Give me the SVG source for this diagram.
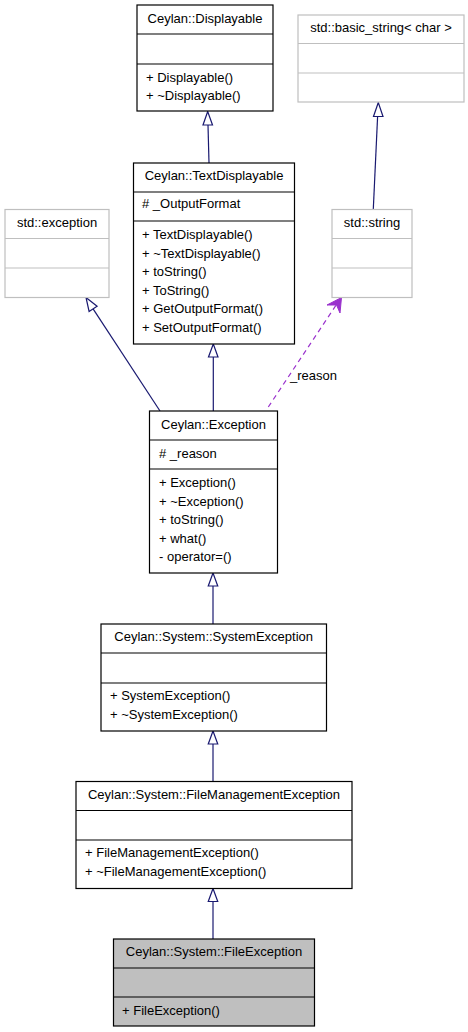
<svg xmlns="http://www.w3.org/2000/svg" width="468" height="1032" viewBox="0 0 468 1032">
<style>
text{font-family:"Liberation Sans",Arial,sans-serif;font-size:13px;fill:#000}
.t{text-anchor:middle}
.b{fill:#fff;stroke:#000;stroke-width:1.2}
.g{fill:#fff;stroke:#bfbfbf;stroke-width:1.2}
.f{fill:#bfbfbf;stroke:#000;stroke-width:1.2}
.dk{stroke:#000;stroke-width:1.2}
.lg{stroke:#bfbfbf;stroke-width:1.2}
.e{fill:none;stroke:#191970;stroke-width:1.2}
.ah{fill:#fff;stroke:#191970;stroke-width:1.2}
.u{fill:none;stroke:#9a32cd;stroke-width:1.2;stroke-dasharray:5,4}
.uh{fill:#9a32cd;stroke:#9a32cd;stroke-width:1}
</style>
<rect width="468" height="1032" fill="#fff"/>
<g id="edges">
<path class="e" d="M209,163 L208,125"/>
<polygon class="ah" points="207.7,111.5 203,125 212.5,125"/>
<path class="e" d="M373.3,209.3 C375,170 376.5,140 377.6,116.5"/>
<polygon class="ah" points="378.3,102.5 373.5,116.5 383,116.5"/>
<path class="e" d="M213.3,411 L213.3,357"/>
<polygon class="ah" points="213.3,344 208.5,357 218,357"/>
<path class="e" d="M160,411 L93.1,308.9"/>
<polygon class="ah" points="86,297.5 97.1,306.3 89.1,311.5"/>
<path class="u" d="M268.3,407 L336.5,304.5"/>
<polygon class="uh" points="341.5,297.5 340,313 336.5,305 327,305"/>
<text x="290" y="380">_reason</text>
<path class="e" d="M213,624 L213,586"/>
<polygon class="ah" points="213,573 208.25,586 217.75,586"/>
<path class="e" d="M213,781.5 L213,744"/>
<polygon class="ah" points="213,731 208.25,744 217.75,744"/>
<path class="e" d="M213,939 L213,901.5"/>
<polygon class="ah" points="213,888.5 208.25,901.5 217.75,901.5"/>
</g>
<g id="Displayable">
<rect class="b" x="137" y="5" width="136" height="106"/>
<line class="dk" x1="137" y1="34" x2="273" y2="34"/>
<line class="dk" x1="137" y1="64" x2="273" y2="64"/>
<text class="t" x="205" y="23.3">Ceylan::Displayable</text>
<text x="146" y="81.7">+ Displayable()</text>
<text x="146" y="100">+ ~Displayable()</text>
</g>
<g id="basic_string">
<rect class="g" x="298" y="15" width="166" height="87"/>
<line class="lg" x1="298" y1="43.5" x2="464" y2="43.5"/>
<line class="lg" x1="298" y1="73" x2="464" y2="73"/>
<text class="t" x="381" y="31.7">std::basic_string&lt; char &gt;</text>
</g>
<g id="TextDisplayable">
<rect class="b" x="133.5" y="163" width="161" height="181"/>
<line class="dk" x1="133.5" y1="192" x2="294.5" y2="192"/>
<line class="dk" x1="133.5" y1="221" x2="294.5" y2="221"/>
<text class="t" x="214" y="180">Ceylan::TextDisplayable</text>
<text x="142" y="208.3"># _OutputFormat</text>
<text x="142" y="239">+ TextDisplayable()</text>
<text x="142" y="257.5">+ ~TextDisplayable()</text>
<text x="142" y="276">+ toString()</text>
<text x="142" y="294.5">+ ToString()</text>
<text x="142" y="313">+ GetOutputFormat()</text>
<text x="142" y="331.5">+ SetOutputFormat()</text>
</g>
<g id="std_exception">
<rect class="g" x="5" y="209.5" width="104" height="88"/>
<line class="lg" x1="5" y1="238.5" x2="109" y2="238.5"/>
<line class="lg" x1="5" y1="268" x2="109" y2="268"/>
<text class="t" x="57" y="227">std::exception</text>
</g>
<g id="std_string">
<rect class="g" x="332" y="209.5" width="80" height="88"/>
<line class="lg" x1="332" y1="238.5" x2="412" y2="238.5"/>
<line class="lg" x1="332" y1="268" x2="412" y2="268"/>
<text class="t" x="372" y="226.7">std::string</text>
</g>
<g id="Exception">
<rect class="b" x="149.5" y="411" width="128" height="162"/>
<line class="dk" x1="149.5" y1="440" x2="277.5" y2="440"/>
<line class="dk" x1="149.5" y1="469" x2="277.5" y2="469"/>
<text class="t" x="213.5" y="428.5">Ceylan::Exception</text>
<text x="159" y="457.5"># _reason</text>
<text x="159" y="487">+ Exception()</text>
<text x="159" y="505.5">+ ~Exception()</text>
<text x="159" y="524">+ toString()</text>
<text x="159" y="542.5">+ what()</text>
<text x="159" y="561">- operator=()</text>
</g>
<g id="SystemException">
<rect class="b" x="101" y="624" width="225.5" height="107"/>
<line class="dk" x1="101" y1="653" x2="326.5" y2="653"/>
<line class="dk" x1="101" y1="683" x2="326.5" y2="683"/>
<text class="t" x="213.7" y="641">Ceylan::System::SystemException</text>
<text x="110" y="700">+ SystemException()</text>
<text x="110" y="718.5">+ ~SystemException()</text>
</g>
<g id="FileManagementException">
<rect class="b" x="76" y="781.5" width="276" height="107"/>
<line class="dk" x1="76" y1="810.5" x2="352" y2="810.5"/>
<line class="dk" x1="76" y1="840" x2="352" y2="840"/>
<text class="t" x="214" y="799">Ceylan::System::FileManagementException</text>
<text x="85" y="857">+ FileManagementException()</text>
<text x="85" y="875.5">+ ~FileManagementException()</text>
</g>
<g id="FileException">
<rect class="f" x="113.5" y="939" width="201" height="87"/>
<line class="dk" x1="113.5" y1="968" x2="314.5" y2="968"/>
<line class="dk" x1="113.5" y1="997" x2="314.5" y2="997"/>
<text class="t" x="214" y="956">Ceylan::System::FileException</text>
<text x="122" y="1015">+ FileException()</text>
</g>
</svg>
